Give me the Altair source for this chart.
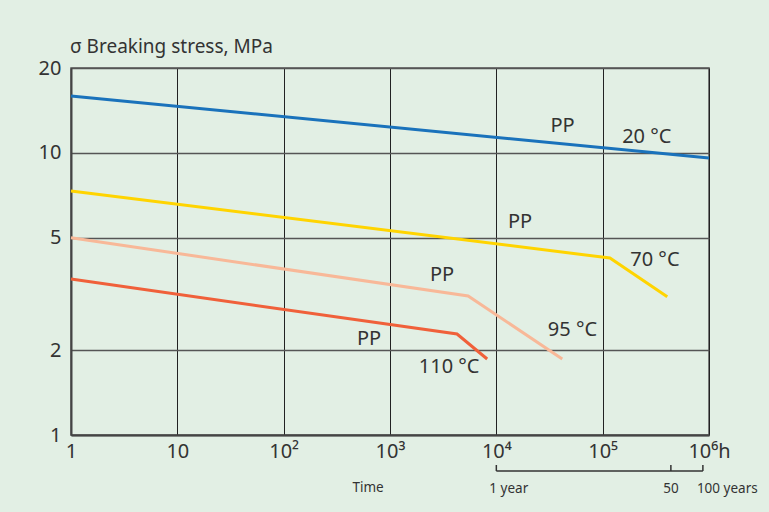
import altair as alt
import pandas as pd

# Creep-rupture curves for PP pipe material (time in hours, stress in MPa)
hours_20 = [1, 1e6]
stress_20 = [15.9, 9.6]
hours_70 = [1, 1.17e5, 4.05e5]
stress_70 = [7.33, 4.24, 3.09]
hours_95 = [1, 5430, 4.17e4]
stress_95 = [5.0, 3.11, 1.86]
hours_110 = [1, 4270, 8200]
stress_110 = [3.57, 2.28, 1.86]

series = ["20 °C", "70 °C", "95 °C", "110 °C"]
colors = ["#1a72bb", "#ffd400", "#f8b898", "#f0603a"]

x_ticks = [1, 10, 100, 1e3, 1e4, 1e5, 1e6]
x_tick_text = ["1", "10", "10²", "10³", "10⁴", "10⁵", "10⁶h"]
y_ticks = [1, 2, 5, 10, 20]

# Curve labels: text, hours, MPa
label_text = ["PP", "20 °C", "PP", "70 °C", "PP", "95 °C", "PP", "110 °C"]
label_hours = [4.2e4, 2.6e5, 1.67e4, 3.1e5, 3090, 5.2e4, 636, 3600]
label_stress = [12.5, 11.4, 5.69, 4.17, 3.69, 2.36, 2.19, 1.74]

# Service-life scale under the time axis (hours)
life_hours = [1e4, 4.38e5, 8.76e5]
life_text = ["1 year", "50", "100 years"]

W, H = 638, 367
FONT = "Noto Sans"
INK = "#333333"

rows = []
for name, hs, ss in [(series[0], hours_20, stress_20), (series[1], hours_70, stress_70),
                     (series[2], hours_95, stress_95), (series[3], hours_110, stress_110)]:
    for i, (h, s) in enumerate(zip(hs, ss)):
        rows.append({"series": name, "order": i, "hours": h, "stress": s})
curves = pd.DataFrame(rows)

xscale = alt.Scale(type="log", domain=[1, 1e6], nice=False)
yscale = alt.Scale(type="log", domain=[1, 20], nice=False)

label_expr = "[" + ",".join(f"'{t}'" for t in x_tick_text) + "][round(log(datum.value)/LN10)]"

base = alt.Chart(curves).encode(
    x=alt.X("hours:Q", scale=xscale,
            axis=alt.Axis(values=x_ticks, labelExpr=label_expr, title=None, grid=True,
                          gridColor="#222222", gridWidth=1, ticks=False, labelPadding=6,
                          labelFontSize=20, labelColor=INK, labelFont=FONT,
                          domainColor="#444444", domainWidth=2, labelFlush=False)),
    y=alt.Y("stress:Q", scale=yscale,
            axis=alt.Axis(values=y_ticks, format="d", title=None, grid=True,
                          gridColor="#555555", gridWidth=1.5, ticks=False, labelPadding=10,
                          labelFontSize=20, labelColor=INK, labelFont=FONT,
                          domainColor="#444444", domainWidth=2)),
)

lines = base.mark_line(strokeWidth=3).encode(
    color=alt.Color("series:N", scale=alt.Scale(domain=series, range=colors), legend=None),
    order="order:Q",
    detail="series:N",
)

labels_df = pd.DataFrame({"text": label_text, "hours": label_hours, "stress": label_stress})
labels = alt.Chart(labels_df).mark_text(fontSize=20, font=FONT, color=INK).encode(
    x=alt.X("hours:Q", scale=xscale), y=alt.Y("stress:Q", scale=yscale), text="text:N")

title = alt.Chart(pd.DataFrame({"t": ["σ Breaking stress, MPa"]})).mark_text(
    fontSize=19, font=FONT, color=INK, align="left", baseline="alphabetic").encode(
    x=alt.value(-1), y=alt.value(-15), text="t:N")

time_lbl = alt.Chart(pd.DataFrame({"t": ["Time"]})).mark_text(
    fontSize=13.5, font=FONT, color=INK, align="center", baseline="middle").encode(
    x=alt.value(297), y=alt.value(420), text="t:N")

life_df = pd.DataFrame({"hours": life_hours, "text": life_text})
bracket = alt.Chart(pd.DataFrame({"a": [life_hours[0]], "b": [life_hours[-1]]})).mark_rule(
    color=INK, strokeWidth=1.5).encode(
    x=alt.X("a:Q", scale=xscale), x2="b:Q", y=alt.value(403))
life_ticks = alt.Chart(life_df).mark_rule(color=INK, strokeWidth=1.5).encode(
    x=alt.X("hours:Q", scale=xscale), y=alt.value(397), y2=alt.value(403))

life_left = alt.Chart(life_df.iloc[[0]]).mark_text(
    fontSize=13.5, font=FONT, color=INK, baseline="middle", align="left", dx=-7).encode(
    x=alt.X("hours:Q", scale=xscale), y=alt.value(421), text="text:N")
life_mid = alt.Chart(life_df.iloc[[1]]).mark_text(
    fontSize=13.5, font=FONT, color=INK, baseline="middle", align="center").encode(
    x=alt.X("hours:Q", scale=xscale), y=alt.value(421), text="text:N")
life_right = alt.Chart(life_df.iloc[[2]]).mark_text(
    fontSize=13.5, font=FONT, color=INK, baseline="middle", align="left", dx=-6).encode(
    x=alt.X("hours:Q", scale=xscale), y=alt.value(421), text="text:N")

chart = alt.layer(lines, labels, title, time_lbl, bracket, life_ticks,
                  life_left, life_mid, life_right).properties(
    width=W, height=H,
    autosize=alt.AutoSizeParams(type="none"),
    padding={"left": 71, "top": 68, "right": 60, "bottom": 77},
    background="#e2efe4",
).configure_view(stroke="#555555", strokeWidth=1.5)

chart.save("out.html", embed_options={"renderer": "svg", "actions": False})
